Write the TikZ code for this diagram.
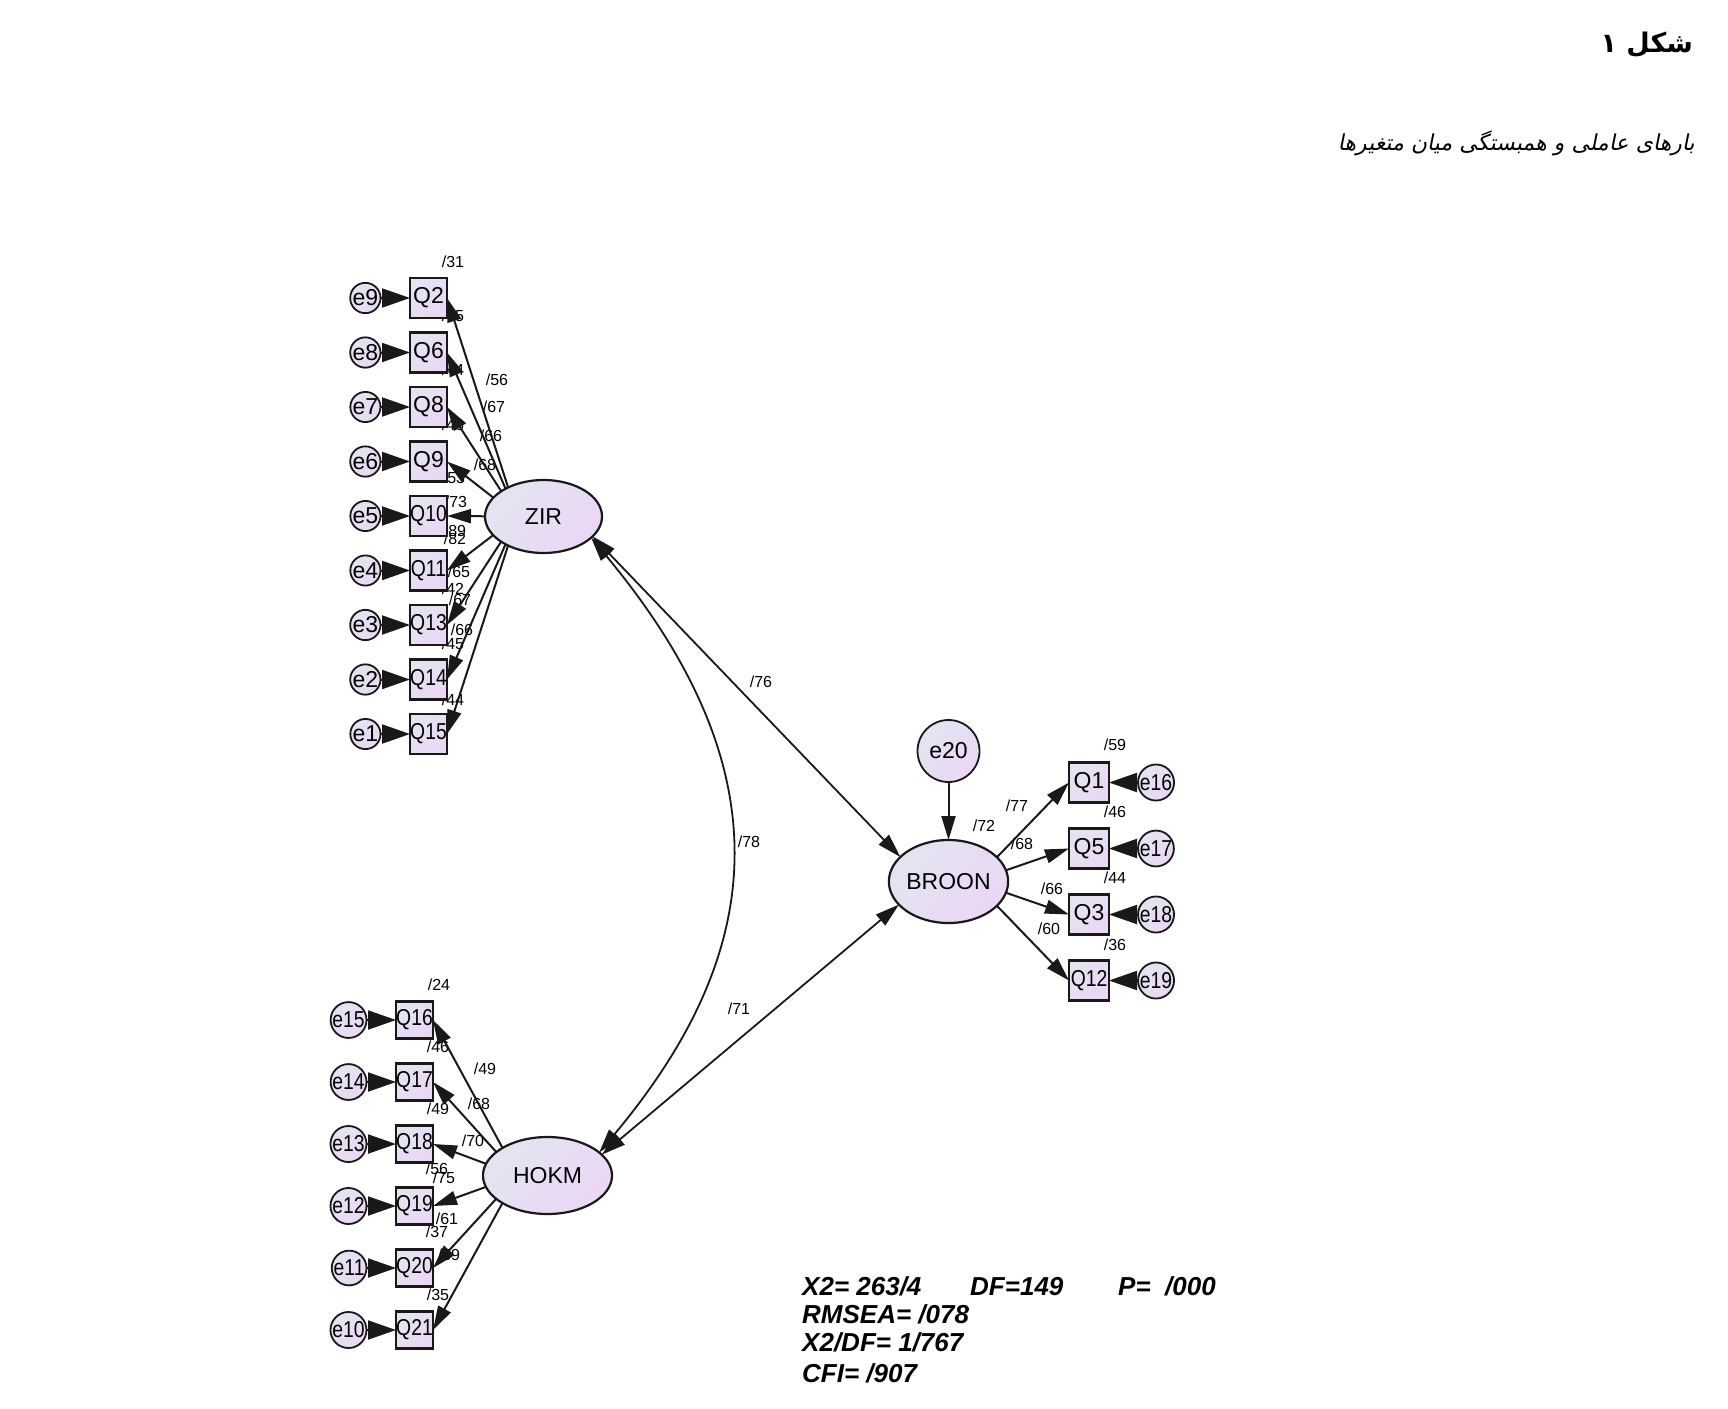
\documentclass[tikz,border=0pt]{standalone}
\usepackage{fontspec}
\usepackage{graphicx}
\setmainfont{Liberation Sans}
\newfontfamily\arabicfont[Script=Arabic]{DejaVu Sans}
\newfontfamily\arabicslant[Script=Arabic,FakeSlant=0.2]{DejaVu Sans}
\TeXXeTstate=1
\usetikzlibrary{positioning,shapes.geometric,arrows.meta,backgrounds}
\definecolor{amoslo}{RGB}{226,229,240}
\definecolor{amoshi}{RGB}{236,214,245}
\definecolor{amosline}{RGB}{25,25,25}
\newcommand{\sqz}[1]{\scalebox{0.84}[1]{#1}}

\begin{document}
\begin{tikzpicture}
[
    x = 1pt, y = 1pt,
    shade/.style = {top color = amoslo, bottom color = amoshi, shading angle = 45},
    obs/.style = {rectangle, draw = amosline, line width = 2.8pt, shade,
        minimum width = 37pt, minimum height = 40pt, inner sep = 0pt, outer sep = 0pt,
        font = \fontsize{23}{23}\selectfont},
    lat/.style = {ellipse, draw = amosline, line width = 2.2pt, shade,
        inner sep = 0pt, outer sep = 0pt, font = \fontsize{23}{23}\selectfont},
    err/.style = {circle, draw = amosline, line width = 1.8pt, shade,
        minimum size = 28pt, inner sep = 0pt, outer sep = 0pt,
        font = \fontsize{23}{23}\selectfont},
    est/.style = {inner sep = 0pt, font = \fontsize{16}{16}\selectfont},
    gof/.style = {anchor = base west, inner sep = 0pt,
        font = \fontsize{26}{26}\selectfont\bfseries\itshape},
    load/.style = {line width = 2pt, draw = amosline, -{Triangle[length = 24pt, width = 14pt]}},
    errarr/.style = {line width = 2pt, draw = amosline, -{Triangle[length = 28pt, width = 19pt]}},
    cov/.style = {line width = 1.8pt, draw = amosline,
        {Triangle[length = 24pt, width = 14pt]}-{Triangle[length = 24pt, width = 14pt]}}
]
\useasboundingbox (0,0) rectangle (1728,-1408);

\node[anchor = east, inner sep = 0pt, font = \fontsize{27}{30}\selectfont] (title)
    at (1693,-45) {\arabicfont\bfseries\beginR شکل ۱\endR};
\node[anchor = east, inner sep = 0pt, font = \fontsize{22}{26}\selectfont] (subtitle)
    at (1695,-143) {\arabicslant\beginR بارهای عاملی و همبستگی میان متغیرها\endR};

% latent variables
\node[lat, minimum width = 117pt, minimum height = 73pt] (zir) at (543.5,-516.5) {ZIR};
\node[lat, minimum width = 129pt, minimum height = 77pt] (hokm) at (547.5,-1175.5) {HOKM};
\node[lat, minimum width = 117pt, minimum height = 83pt] (broon) at (948.5,-881.5) {BROON};
\node[err, minimum size = 62pt] (e20) at (948.5,-751) {e20};

\coordinate (zirhub) at ([xshift = -26pt]zir.center);
\coordinate (hokmhub) at ([xshift = -30pt]hokm.center);
\coordinate (broonhub) at ([xshift = 25pt]broon.center);

% ZIR indicators
\node[obs] (q2) at (428.5,-298) {Q2};
\node[obs, below = 14.5pt of q2] (q6) {Q6};
\node[obs, below = 14.5pt of q6] (q8) {Q8};
\node[obs, below = 14.5pt of q8] (q9) {Q9};
\node[obs, below = 14.5pt of q9] (q10) {\sqz{Q10}};
\node[obs, below = 14.5pt of q10] (q11) {\sqz{Q11}};
\node[obs, below = 14.5pt of q11] (q13) {\sqz{Q13}};
\node[obs, below = 14.5pt of q13] (q14) {\sqz{Q14}};
\node[obs, below = 14.5pt of q14] (q15) {\sqz{Q15}};
\node[err, left = 29.5pt of q2] (e9) {e9};
\node[err, left = 29.5pt of q6] (e8) {e8};
\node[err, left = 29.5pt of q8] (e7) {e7};
\node[err, left = 29.5pt of q9] (e6) {e6};
\node[err, left = 29.5pt of q10] (e5) {e5};
\node[err, left = 29.5pt of q11] (e4) {e4};
\node[err, left = 29.5pt of q13] (e3) {e3};
\node[err, left = 29.5pt of q14] (e2) {e2};
\node[err, left = 29.5pt of q15] (e1) {e1};

% HOKM indicators
\node[obs, minimum height = 37pt] (q16) at (414.5,-1020) {\sqz{Q16}};
\node[obs, minimum height = 37pt, below = 25pt of q16] (q17) {\sqz{Q17}};
\node[obs, minimum height = 37pt, below = 25pt of q17] (q18) {\sqz{Q18}};
\node[obs, minimum height = 37pt, below = 25pt of q18] (q19) {\sqz{Q19}};
\node[obs, minimum height = 37pt, below = 25pt of q19] (q20) {\sqz{Q20}};
\node[obs, minimum height = 37pt, below = 25pt of q20] (q21) {\sqz{Q21}};
\node[err, left = 29.5pt of q16] (e15) {\sqz{e15}};
\node[err, left = 29.5pt of q17] (e14) {\sqz{e14}};
\node[err, left = 29.5pt of q18] (e13) {\sqz{e13}};
\node[err, left = 29.5pt of q19] (e12) {\sqz{e12}};
\node[err, left = 29.5pt of q20] (e11) {\sqz{e11}};
\node[err, left = 29.5pt of q21] (e10) {\sqz{e10}};

% BROON indicators
\node[obs, minimum width = 40pt] (q1) at (1089,-782.5) {Q1};
\node[obs, minimum width = 40pt, below = 26pt of q1] (q5) {Q5};
\node[obs, minimum width = 40pt, below = 26pt of q5] (q3) {Q3};
\node[obs, minimum width = 40pt, below = 26pt of q3] (q12) {\sqz{Q12}};
\node[err, minimum size = 30pt, right = 29pt of q1] (e16) {\sqz{e16}};
\node[err, minimum size = 30pt, right = 29pt of q5] (e17) {\sqz{e17}};
\node[err, minimum size = 30pt, right = 29pt of q3] (e18) {\sqz{e18}};
\node[err, minimum size = 30pt, right = 29pt of q12] (e19) {\sqz{e19}};

% fit indices
\node[gof] (chi) at (802,-1295) {X2= 263/4};
\node[gof] (df) at (970,-1295) {DF=149};
\node[gof] (pval) at (1118,-1295) {P=\ \ /000};
\node[gof] (rmsea) at (802,-1323) {RMSEA= /078};
\node[gof] (ratio) at (802,-1351) {X2/DF= 1/767};
\node[gof] (cfi) at (802,-1382) {CFI= /907};

\begin{scope}[on background layer]
\node[est] (rq2) at (453,-262) {/31};
\node[est] (rq6) at (453,-316) {/45};
\node[est] (rq8) at (453,-370) {/44};
\node[est] (rq9) at (453,-425) {/46};
\node[est] (rq10) at (454,-478) {/53};
\node[est] (rq11) at (455,-539) {/82};
\node[est] (rq11b) at (455,-531) {/89};
\node[est] (rq13) at (453,-589) {/42};
\node[est] (rq14) at (453,-644) {/45};
\node[est] (rq15) at (453,-700) {/44};
\node[est] (lq2) at (497,-380) {/56};
\node[est] (lq6) at (494,-407) {/67};
\node[est] (lq8) at (491,-436) {/66};
\node[est] (lq9) at (485,-465) {/68};
\node[est] (lq10) at (456,-502) {/73};
\node[est] (lq13) at (459,-572) {/65};
\node[est] (lq14) at (460,-600) {/67};
\node[est] (lq15) at (462,-630) {/66};

\node[est] (rq16) at (439,-985) {/24};
\node[est] (rq17) at (438,-1047) {/46};
\node[est] (rq18) at (438,-1109) {/49};
\node[est] (rq19) at (437,-1169) {/56};
\node[est] (rq20) at (437,-1232) {/37};
\node[est] (rq21) at (438,-1295) {/35};
\node[est] (lq16) at (485,-1069) {/49};
\node[est] (lq17) at (479,-1104) {/68};
\node[est] (lq18) at (473,-1141) {/70};
\node[est] (lq19) at (444,-1178) {/75};
\node[est] (lq20) at (447,-1219) {/61};
\node[est] (lq21) at (449,-1255) {/59};

\node[est] (rq1) at (1115,-745) {/59};
\node[est] (rq5) at (1115,-812) {/46};
\node[est] (rq3) at (1115,-878) {/44};
\node[est] (rq12) at (1115,-945) {/36};
\node[est] (rbroon) at (984,-826) {/72};
\node[est] (lq1) at (1017,-806) {/77};
\node[est] (lq5) at (1022,-844) {/68};
\node[est] (lq3) at (1052,-889) {/66};
\node[est] (lq12) at (1049,-929) {/60};

\node[est] (czb) at (761,-682) {/76};
\node[est] (czh) at (749,-842) {/78};
\node[est] (chb) at (739,-1009) {/71};

\draw[load] (zirhub) -- (q2.east);
\draw[load] (zirhub) -- (q6.east);
\draw[load] (zirhub) -- (q8.east);
\draw[load] (zirhub) -- (q9.east);
\draw[load] (zirhub) -- (q10.east);
\draw[load] (zirhub) -- (q11.east);
\draw[load] (zirhub) -- (q13.east);
\draw[load] (zirhub) -- (q14.east);
\draw[load] (zirhub) -- (q15.east);

\draw[load] (hokmhub) -- (q16.east);
\draw[load] (hokmhub) -- (q17.east);
\draw[load] (hokmhub) -- (q18.east);
\draw[load] (hokmhub) -- (q19.east);
\draw[load] (hokmhub) -- (q20.east);
\draw[load] (hokmhub) -- (q21.east);

\draw[load] (broonhub) -- (q1.west);
\draw[load] (broonhub) -- (q5.west);
\draw[load] (broonhub) -- (q3.west);
\draw[load] (broonhub) -- (q12.west);
\end{scope}

\draw[errarr] (e9) -- (q2);
\draw[errarr] (e8) -- (q6);
\draw[errarr] (e7) -- (q8);
\draw[errarr] (e6) -- (q9);
\draw[errarr] (e5) -- (q10);
\draw[errarr] (e4) -- (q11);
\draw[errarr] (e3) -- (q13);
\draw[errarr] (e2) -- (q14);
\draw[errarr] (e1) -- (q15);
\draw[errarr] (e15) -- (q16);
\draw[errarr] (e14) -- (q17);
\draw[errarr] (e13) -- (q18);
\draw[errarr] (e12) -- (q19);
\draw[errarr] (e11) -- (q20);
\draw[errarr] (e10) -- (q21);
\draw[errarr] (e16) -- (q1);
\draw[errarr] (e17) -- (q5);
\draw[errarr] (e18) -- (q3);
\draw[errarr] (e19) -- (q12);
\draw[load] (e20) -- (broon);

\draw[cov] (zir.-22) -- (broon.153);
\draw[cov] (hokm.21) -- (broon.205);
\draw[cov] (zir.-24) .. controls (786,-772) and (766,-953) .. (hokm.24);
\end{tikzpicture}
\end{document}
